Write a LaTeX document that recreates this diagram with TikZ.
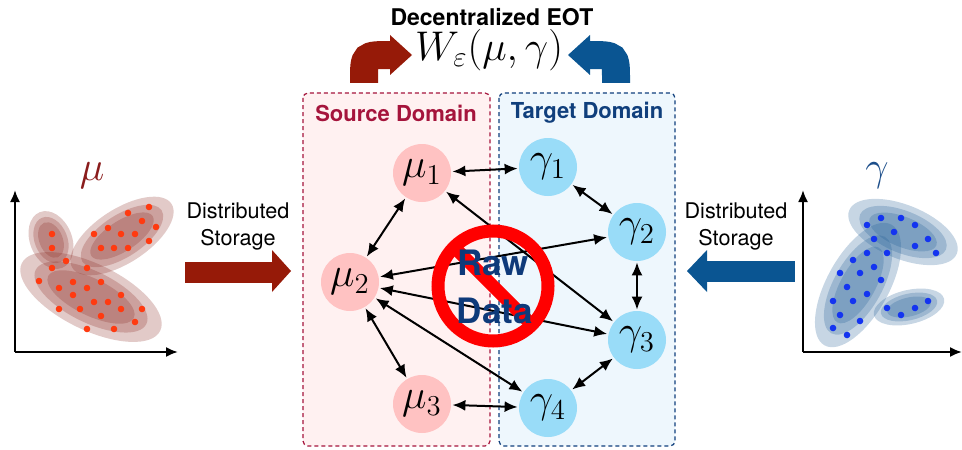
\documentclass[tikz,border=0pt]{standalone}
\usepackage{fontspec}
\setsansfont{TeX Gyre Heros}
\usetikzlibrary{arrows.meta}

\definecolor{srcred}{HTML}{A5143C}
\definecolor{tgtblue}{HTML}{103F7C}
\definecolor{srcfill}{HTML}{FFF1F1}
\definecolor{tgtfill}{HTML}{EEF7FD}
\definecolor{munode}{HTML}{FFC2C2}
\definecolor{gamnode}{HTML}{99DCF8}
\definecolor{bigred}{HTML}{961A08}
\definecolor{bigblue}{HTML}{0A5592}
\definecolor{mulabel}{HTML}{8A1C1C}
\definecolor{gamlabel}{HTML}{1C4E8A}
\definecolor{reddot}{HTML}{FF3A10}
\definecolor{bluedot}{HTML}{1434F0}
\definecolor{ellred}{HTML}{8A2A22}
\definecolor{ellblue}{HTML}{1F5C94}
\definecolor{rawblue}{HTML}{0E3A7A}

\tikzset{
  munodestyle/.style={circle, fill=munode, minimum size=29pt, inner sep=0pt,
    font=\fontsize{21}{24}\selectfont},
  gamnodestyle/.style={circle, fill=gamnode, minimum size=29pt, inner sep=0pt,
    font=\fontsize{21}{24}\selectfont},
  link/.style={<->, >={Latex[length=6.5pt,width=5.5pt]}, line width=1pt,
    shorten <=0.5pt, shorten >=0.5pt},
  domainbox/.style={dashed, dash pattern=on 2pt off 1.5pt, line width=0.6pt,
    rounded corners=2.5pt},
  sidetext/.style={align=center, font=\sffamily\fontsize{10.8}{13.5}\selectfont},
  axis/.style={-{Latex[length=6pt,width=5pt]}, line width=1pt},
  ell/.style={fill opacity=0.25},
}

% three nested translucent ellipses: colour, centre, angle, semi-axes
\newcommand{\cluster}[5]{%
  \foreach \s/\t in {1/1,0.8/0.78,0.62/0.56}{
    \fill[#1, ell, rotate around={#3:#2}] #2 ellipse [x radius={#4*\s}, y radius={#5*\t}];
  }%
}

\begin{document}
\begin{tikzpicture}[x=0.5pt, y=-0.5pt]
\useasboundingbox (0,0) rectangle (962,449);

% ---------- domain boxes ----------
\draw[domainbox, draw=srcred, fill=srcfill] (303,93) rectangle (490,446);
\draw[domainbox, draw=tgtblue, fill=tgtfill] (499,93) rectangle (675,446);
\node[font=\sffamily\bfseries\fontsize{11}{13}\selectfont, text=srcred] (srclabel) at (396,113) {Source Domain};
\node[font=\sffamily\bfseries\fontsize{11}{13}\selectfont, text=tgtblue] (tgtlabel) at (587,113) {Target Domain};

% ---------- title and objective ----------
\node[font=\sffamily\bfseries\fontsize{11.5}{13}\selectfont] (title) at (492,17) {Decentralized EOT};
\node[font=\fontsize{20}{24}\selectfont] (obj) at (489,50) {$W_{\varepsilon}(\mu,\gamma)$};

% bent arrows feeding the objective
\draw[bigred, line width=14pt] (364,83) -- (364,80) .. controls (364,55) .. (391,55);
\fill[bigred] (390,35) -- (412,55) -- (390,75) -- cycle;
\draw[bigblue, line width=14pt] (616,83) -- (616,80) .. controls (616,55) .. (589,55);
\fill[bigblue] (590,35) -- (568,55) -- (590,75) -- cycle;

% ---------- graph nodes ----------
\node[munodestyle] (m1) at (422,173) {$\mu_1$};
\node[munodestyle] (m2) at (350,282) {$\mu_2$};
\node[munodestyle] (m3) at (422,404) {$\mu_3$};
\node[gamnodestyle] (g1) at (548,167) {$\gamma_1$};
\node[gamnodestyle] (g2) at (637,232) {$\gamma_2$};
\node[gamnodestyle] (g3) at (637,340) {$\gamma_3$};
\node[gamnodestyle] (g4) at (548,408) {$\gamma_4$};

% ---------- communication links ----------
\draw[link] (m1) -- (g1);
\draw[link] (m1) -- (m2);
\draw[link] (m2) -- (m3);
\draw[link] (m3) -- (g4);
\draw[link] (g1) -- (g2);
\draw[link] (g2) -- (g3);
\draw[link] (g3) -- (g4);
\draw[link] (m1) -- (g3);
\draw[link] (m2) -- (g2);
\draw[link] (m2) -- (g3);
\draw[link] (m2) -- (g4);

% ---------- no raw data sign ----------
\begin{scope}
  \clip (493,286) circle (56);
  \draw[red, line width=6.5pt] (450,243) -- (536,329);
\end{scope}
\draw[red, line width=6.5pt] (493,286) circle (55);
\node[font=\sffamily\bfseries\fontsize{17.5}{24}\selectfont, text=rawblue] (raw) at (493,263) {Raw};
\node[font=\sffamily\bfseries\fontsize{17.5}{24}\selectfont, text=rawblue] (data) at (495,311) {Data};

% ---------- source distribution ----------
\draw[axis] (15,352) -- (15,190);
\draw[axis] (15,352) -- (178,352);
\node[font=\fontsize{22}{24}\selectfont, text=mulabel] (mulab) at (92,176) {$\mu$};

\cluster{ellred}{(51,240)}{-68}{30}{21}
\cluster{ellred}{(122,236)}{33}{59}{27}
\cluster{ellred}{(91,297)}{-26}{77}{33}
\foreach \p in {(149,207),(128,213),(142,221),(156,227),(108,228),(94,234),(121,234),
  (135,234),(149,241),(101,248),(114,248),(128,248),(52,234),(52,248),(66,261),
  (52,268),(87,268),(39,281),(59,288),(73,282),(87,288),(101,282),(73,295),(121,295),
  (94,302),(108,302),(59,309),(80,309),(121,309),(142,309),(101,316),(135,322),
  (87,329),(114,329)}
  \fill[reddot] \p circle (3.3);

\node[sidetext] (lstore) at (238,226) {Distributed\\Storage};
\fill[bigred] (185,262) rectangle (273,283);
\fill[bigred] (272,250) -- (291,271) -- (272,292) -- cycle;

% ---------- target distribution ----------
\draw[axis] (803,352) -- (803,190);
\draw[axis] (803,352) -- (962,352);
\node[font=\fontsize{22}{24}\selectfont, text=gamlabel] (gamlab) at (877,176) {$\gamma$};

\cluster{ellblue}{(858,285)}{61}{69}{31}
\cluster{ellblue}{(903,232)}{-22}{58}{27}
\cluster{ellblue}{(909,307)}{13}{36}{17}
\foreach \p in {(881,218),(901,218),(915,225),(867,225),(894,232),(874,239),(928,239),
  (915,246),(936,253),(867,253),(887,253),(853,260),(874,267),(840,273),(860,273),
  (881,280),(847,287),(867,294),(833,301),(853,301),(928,301),(887,308),(915,308),
  (840,315),(901,315),(860,321),(833,328),(847,335)}
  \fill[bluedot] \p circle (3.3);

\node[sidetext] (rstore) at (736,226) {Distributed\\Storage};
\fill[bigblue] (707,261) rectangle (795,282);
\fill[bigblue] (707,250) -- (687,271) -- (707,292) -- cycle;

\end{tikzpicture}
\end{document}
